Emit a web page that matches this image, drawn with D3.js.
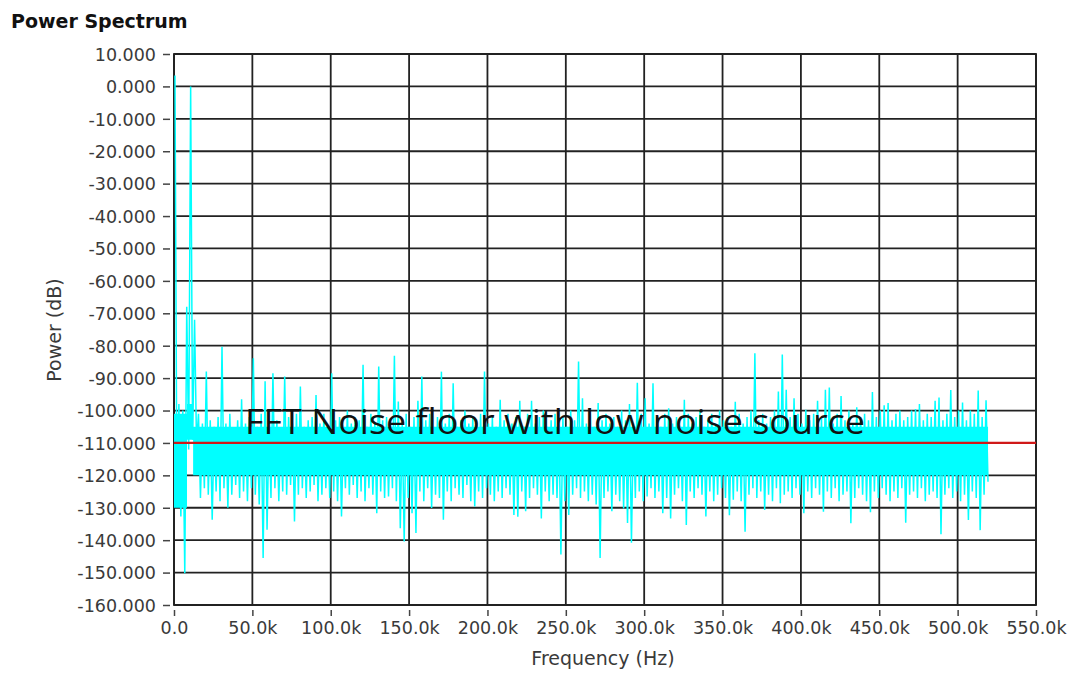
<!DOCTYPE html>
<html><head><meta charset="utf-8">
<script src="https://cdn.jsdelivr.net/npm/d3@7"></script>
<style>body{margin:0;background:#fff}svg{display:block}</style>
</head><body>
<svg id="chart" width="1070" height="673"></svg>
<script>
// ---- data ----
const binStepHz = 2500;            // one max/min pair per 2.5 kHz bin (decimated spectrum)
const upperDb = [
 3.4,-98,-100,-68,0,-72,-101,-104,-88,-103, -105,-102,-80.3,-104,-101,-106,-103,-96.5,-104,-102,
 -83.9,-105,-101,-91,-104,-88.5,-103,-106,-89.5,-102, -104,-101,-92.6,-105,-103,-102,-95.2,-104,-101,-105,
 -88.5,-103,-102,-106,-100,-104,-102,-103,-85.9,-105, -101,-104,-86.4,-103,-102,-105,-83.1,-97.2,-104,-101,
 -105,-102,-97,-89.5,-103,-101,-105,-102,-88,-104, -101,-91.6,-105,-103,-100,-104,-102,-105,-101,-88,
 -104,-102,-105,-96.7,-103,-101,-104,-102,-97,-105, -101,-97,-104,-102,-100,-105,-103,-101,-104,-102,
 -105,-100,-103,-84.9,-96.2,-104,-101,-105,-97.7,-103, -101,-104,-102,-105,-100,-103,-98,-104,-91.4,-101,
 -96.2,-104,-91.6,-102,-105,-101,-99.3,-104,-102,-105, -96.7,-101,-104,-102,-100,-105,-103,-101,-104,-100,
 -103,-102,-105,-97.3,-101,-104,-102,-100,-82.3,-103, -101,-104,-102,-100,-94.1,-82.7,-93.6,-102,-96.2,-101,
 -104,-99.8,-103,-101,-97,-102,-93.6,-92.9,-104,-101, -95.5,-103,-100,-104,-99,-102,-101,-103,-94.3,-102,
 -100,-98.4,-97.7,-103,-101,-100,-103,-102,-100,-99.5, -98,-103,-101,-102,-97,-96,-103,-101,-93.7,-102,
 -100,-97.5,-103,-100,-101,-93.8,-102,-96.8
];
const lowerDb = [
 -128,-132.7,-150.2,-112,-109,-110,-127,-124,-126,-133.7, -125,-128,-124,-130,-126,-123,-127,-125,-128,-124,
 -126,-129,-145.5,-136.8,-127,-124,-128,-125,-126,-123, -134.2,-126,-124,-127,-125,-123,-128,-126,-124,-127,
 -125,-128,-132.7,-124,-126,-123,-127,-125,-128,-124, -126,-131.7,-125,-127,-126.5,-124,-128,-136.3,-140.4,-127,
 -131.7,-137.8,-125,-128,-124,-130.1,-126,-127,-133.7,-125, -128,-124,-126,-127,-123,-128,-129.6,-125,-127,-124,
 -126,-128,-125,-127,-124,-126,-132.2,-132.8,-125,-131.1, -127,-124,-126,-133.3,-125,-128,-126,-127,-144.4,-128,
 -132.2,-126,-124,-127,-125,-128,-126,-129,-145.5,-127, -125,-131.1,-126,-128,-130.2,-134.7,-140.8,-127,-125,-128,
 -126.5,-124,-127,-125,-131.7,-127,-133.3,-126,-124,-128, -135.3,-125,-127,-124,-126,-132.7,-125,-128,-126,-124,
 -127,-132.3,-127.5,-125,-128,-137.4,-126,-124,-127,-125, -130.7,-126,-128,-124,-128.6,-126,-125,-127,-124,-126,
 -131.7,-125,-127,-124,-126,-131.2,-125,-127,-124,-128, -126,-125,-134.8,-127,-124,-126,-128,-131.4,-125,-127,
 -124,-126,-128,-125,-127,-124,-134.6,-126,-125,-127, -124,-128,-126,-125,-127,-138.2,-126,-124,-127,-125,
 -128,-126,-133.8,-125,-127,-136.9,-126,-122
];
// dense core of the noise band: [frequency Hz, top dB, bottom dB]
const coreBand = [[0,-101,-130],[8300,-98,-109],[12200,-105,-120],[519400,-105,-120]];
const noiseFloorDb = -110;
const xTickValues = [0,50000,100000,150000,200000,250000,300000,350000,400000,450000,500000,550000];
const xTickLabels = ["0.0","50.0k","100.0k","150.0k","200.0k","250.0k","300.0k","350.0k","400.0k","450.0k","500.0k","550.0k"];
const yTickValues = [10,0,-10,-20,-30,-40,-50,-60,-70,-80,-90,-100,-110,-120,-130,-140,-150,-160];
const yTickLabels = ["10.000","0.000","-10.000","-20.000","-30.000","-40.000","-50.000","-60.000","-70.000","-80.000","-90.000","-100.000","-110.000","-120.000","-130.000","-140.000","-150.000","-160.000"];

// ---- drawing ----
const svg = d3.select("#chart");
const L = 174, R = 1036, T = 54, B = 605;
const x = d3.scaleLinear().domain([0, 550000]).range([L, R]);
const y = d3.scaleLinear().domain([10, -160]).range([T, B]);
const font = "'DejaVu Sans', Verdana, sans-serif";

// grid
const grid = svg.append("g").attr("stroke", "#222").attr("stroke-width", 1.8);
grid.selectAll("line.v").data(xTickValues).join("line")
  .attr("x1", d => x(d)).attr("x2", d => x(d)).attr("y1", T).attr("y2", B);
grid.selectAll("line.h").data(yTickValues).join("line")
  .attr("x1", L).attr("x2", R).attr("y1", d => y(d)).attr("y2", d => y(d));

// border (under the trace, like the reference)
svg.append("rect").attr("x", L).attr("y", T).attr("width", R - L).attr("height", B - T)
  .attr("fill", "none").attr("stroke", "#222").attr("stroke-width", 1.8);

// spectrum core band
svg.append("clipPath").attr("id", "plotclip")
  .append("rect").attr("x", L - 1).attr("y", T - 2).attr("width", R - L + 1).attr("height", B - T + 2);
const plot = svg.append("g").attr("clip-path", "url(#plotclip)");
plot.append("path").datum(coreBand)
  .attr("fill", "#00ffff")
  .attr("d", d3.area().curve(d3.curveStepAfter)
    .x(d => x(d[0])).y0(d => y(d[2])).y1(d => y(d[1])));

// spectrum max/min trace (max at quarter bin, min at three-quarter bin)
const pts = [];
upperDb.forEach((v, i) => {
  pts.push([i * binStepHz + binStepHz / 4, v]);
  pts.push([i * binStepHz + binStepHz * 3 / 4, lowerDb[i]]);
});
plot.append("path").datum(pts)
  .attr("fill", "none").attr("stroke", "#00ffff").attr("stroke-width", 1.5)
  .attr("d", d3.line().x(d => x(d[0])).y(d => y(d[1])));

// noise floor line
plot.append("line")
  .attr("x1", x(0)).attr("x2", x(550000))
  .attr("y1", y(noiseFloorDb)).attr("y2", y(noiseFloorDb))
  .attr("stroke", "#d01818").attr("stroke-width", 2.2);

// axes
const yAxis = d3.axisLeft(y).tickValues(yTickValues)
  .tickFormat((d, i) => yTickLabels[i]).tickSize(7).tickPadding(7);
const gy = svg.append("g").attr("transform", "translate(170,0)").call(yAxis);
gy.select(".domain").remove();
gy.selectAll(".tick line").attr("stroke", "#444").attr("stroke-width", 1.5);
gy.selectAll(".tick text").attr("fill", "#3a3a3a").attr("font-family", font)
  .attr("font-size", 17.5).attr("dy", "0.36em");

const xAxis = d3.axisBottom(x).tickValues(xTickValues)
  .tickFormat((d, i) => xTickLabels[i]).tickSize(6).tickPadding(6);
const gx = svg.append("g").attr("transform", "translate(0,610)").call(xAxis);
gx.select(".domain").remove();
gx.selectAll(".tick line").attr("stroke", "#444").attr("stroke-width", 1.5);
gx.selectAll(".tick text").attr("fill", "#3a3a3a").attr("font-family", font)
  .attr("font-size", 17.5);

// titles
svg.append("text").attr("x", 11).attr("y", 28).attr("font-family", font)
  .attr("font-weight", "bold").attr("font-size", 19).attr("fill", "#111")
  .text("Power Spectrum");
svg.append("text").attr("x", 603).attr("y", 665).attr("text-anchor", "middle")
  .attr("font-family", font).attr("font-size", 19).attr("fill", "#3a3a3a")
  .text("Frequency (Hz)");
svg.append("text").attr("transform", "translate(61,330) rotate(-90)")
  .attr("text-anchor", "middle").attr("font-family", font).attr("font-size", 19)
  .attr("fill", "#3a3a3a").text("Power (dB)");

// annotation
svg.append("text").attr("x", 245).attr("y", 434)
  .attr("font-family", "'Open Sans', sans-serif").attr("font-size", 35).attr("fill", "#111")
  .attr("textLength", 620).attr("lengthAdjust", "spacingAndGlyphs")
  .text("FFT Noise floor with low noise source");
</script>
</body></html>
